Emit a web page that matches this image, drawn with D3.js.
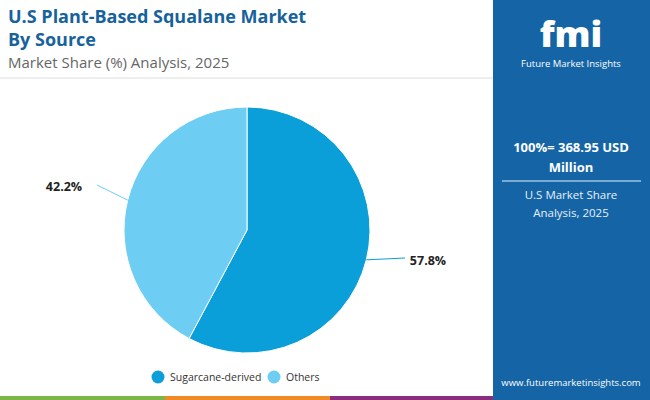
<!DOCTYPE html>
<html>
<head>
<meta charset="utf-8">
<script src="https://d3js.org/d3.v7.min.js"></script>
<style>
  body { margin: 0; }
  svg text { font-family: "Open Sans", sans-serif; }
</style>
</head>
<body>
<script>
// data
var categories = ["Sugarcane-derived", "Others"];
var shares = [57.8, 42.2];
var colors = ["#0a9fd8", "#6dcdf2"];

var W = 650, H = 400;
var svg = d3.select("body").append("svg").attr("width", W).attr("height", H);

svg.append("rect").attr("width", W).attr("height", H).attr("fill", "#fff");

// title
svg.append("text").attr("x", 8).attr("y", 23).attr("font-size", 18).attr("font-weight", 700)
  .attr("fill", "#16629c").text("U.S Plant-Based Squalane Market");
svg.append("text").attr("x", 8).attr("y", 46).attr("font-size", 18).attr("font-weight", 700)
  .attr("fill", "#16629c").text("By Source");
svg.append("text").attr("x", 8).attr("y", 68).attr("font-size", 15)
  .attr("fill", "#666").text("Market Share (%) Analysis, 2025");
svg.append("line").attr("x1", 0).attr("x2", 493).attr("y1", 78).attr("y2", 78)
  .attr("stroke", "#ddd");

// right panel
var panel = svg.append("g");
panel.append("rect").attr("x", 493).attr("y", 0).attr("width", 157).attr("height", H).attr("fill", "#1565a6");
panel.append("text").attr("x", 571).attr("y", 47).attr("text-anchor", "middle").attr("font-size", 36)
  .attr("font-weight", 800).attr("fill", "#fff").text("fmi");
panel.append("text").attr("x", 571).attr("y", 67).attr("text-anchor", "middle").attr("font-size", 9.5)
  .attr("fill", "#fff").text("Future Market Insights");
panel.append("text").attr("x", 571).attr("y", 152).attr("text-anchor", "middle").attr("font-size", 13)
  .attr("font-weight", 700).attr("fill", "#fff").text("100%= 368.95 USD");
panel.append("text").attr("x", 571).attr("y", 172).attr("text-anchor", "middle").attr("font-size", 13)
  .attr("font-weight", 700).attr("fill", "#fff").text("Million");
panel.append("line").attr("x1", 502).attr("x2", 641).attr("y1", 181).attr("y2", 181)
  .attr("stroke", "#9cc3e3").attr("stroke-width", 1.5);
panel.append("text").attr("x", 571).attr("y", 199).attr("text-anchor", "middle").attr("font-size", 11.5)
  .attr("fill", "#e6f0f8").text("U.S Market Share");
panel.append("text").attr("x", 571).attr("y", 217).attr("text-anchor", "middle").attr("font-size", 11.5)
  .attr("fill", "#e6f0f8").text("Analysis, 2025");
panel.append("text").attr("x", 571).attr("y", 386).attr("text-anchor", "middle").attr("font-size", 9.5)
  .attr("fill", "#fff").text("www.futuremarketinsights.com");

// bottom stripe
var stripe = [["#7ab648", 0, 165], ["#f08a24", 165, 330], ["#8b2d7e", 330, 493]];
svg.selectAll(".stripe").data(stripe).enter().append("rect")
  .attr("x", d => d[1]).attr("width", d => d[2] - d[1]).attr("y", 396).attr("height", 4).attr("fill", d => d[0]);

// pie
var cx = 247, cy = 230, r = 123;
var pie = d3.pie().sort(null)(shares);
var arc = d3.arc().innerRadius(0).outerRadius(r);
var g = svg.append("g").attr("transform", "translate(" + cx + "," + cy + ")");
g.selectAll("path").data(pie).enter().append("path")
  .attr("d", arc).attr("fill", (d, i) => colors[i]).attr("stroke", "#fff").attr("stroke-width", 1);

// labels with leader lines
var lblPos = [[158, 28, 181, 31], [-150, -45, -183, -43]];
pie.forEach(function(d, i) {
  var a = (d.startAngle + d.endAngle) / 2;
  var p0 = [Math.sin(a) * r, -Math.cos(a) * r];
  var p = lblPos[i];
  g.append("line").attr("x1", p0[0]).attr("y1", p0[1]).attr("x2", p[0]).attr("y2", p[1])
    .attr("stroke", colors[i]).attr("stroke-width", 1);
  g.append("text").attr("x", p[2]).attr("y", p[3] + 4).attr("text-anchor", "middle")
    .attr("font-size", 12.5).attr("font-weight", 700).attr("fill", "#222").text(shares[i].toFixed(1) + "%");
});

// legend
var lx = [152, 268];
categories.forEach(function(c, i) {
  svg.append("circle").attr("cx", lx[i] + 6).attr("cy", 377).attr("r", 6.5).attr("fill", colors[i]);
  svg.append("text").attr("x", lx[i] + 18).attr("y", 381).attr("font-size", 10.5).attr("fill", "#333").text(c);
});
</script>
</body>
</html>
